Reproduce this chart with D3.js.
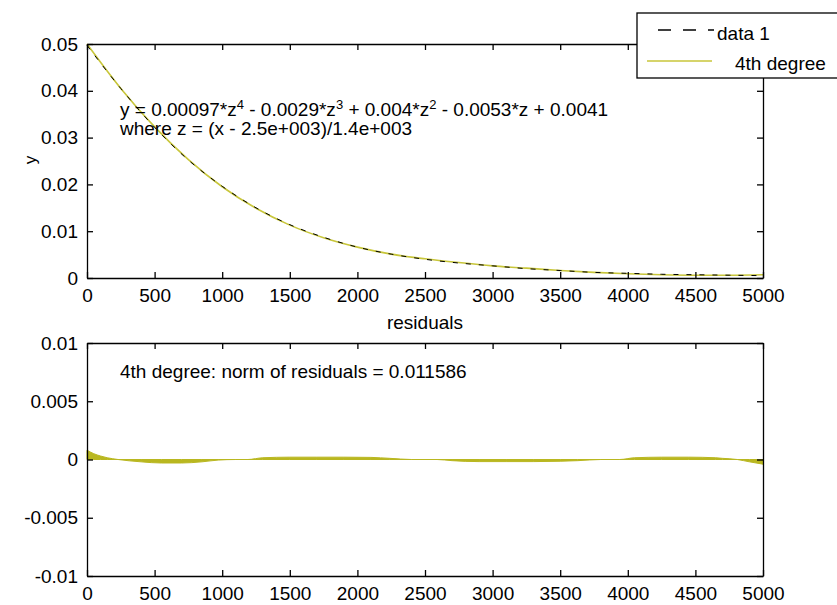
<!DOCTYPE html>
<html>
<head>
<meta charset="utf-8">
<script src="https://cdn.jsdelivr.net/npm/d3@7"></script>
<style>
  body { margin: 0; background: #fff; }
  svg text { font-family: "Liberation Sans", Arial, sans-serif; fill: #000; }
</style>
</head>
<body>
<svg id="chart" width="837" height="605"></svg>
<script>
// values
var dataX = [0, 250, 500, 750, 1000, 1250, 1500, 1750, 2000, 2250, 2500, 2750, 3000, 3250, 3500, 3750, 4000, 4250, 4500, 4750, 5000];
var dataY = [0.0497, 0.0405, 0.0322, 0.0252, 0.0196, 0.0150, 0.0114, 0.0087, 0.0066, 0.0051, 0.0040, 0.0032, 0.0026, 0.0020, 0.0016, 0.0012, 0.0010, 0.0008, 0.0007, 0.0006, 0.0005];
var fitY  = [0.0500, 0.0405, 0.0323, 0.0253, 0.0195, 0.0149, 0.0113, 0.0086, 0.0066, 0.0051, 0.0041, 0.0033, 0.0026, 0.0021, 0.0016, 0.0012, 0.0009, 0.0007, 0.0006, 0.0006, 0.0007];

var residX = [0, 50, 100, 150, 230, 400, 550, 700, 850, 970, 1100, 1190, 1300, 1500, 1700, 1900, 2100, 2240, 2400, 2590, 2700, 2900, 3100, 3300, 3500, 3630, 3800, 3940, 4050, 4250, 4450, 4650, 4700, 4810, 4900, 5000];
var residY = [0.0008, 0.0005, 0.0003, 0.00015, 0, -0.0002, -0.0003, -0.0003, -0.0002, -0.00005, 0, 0, 0.00015, 0.0002, 0.0002, 0.0002, 0.00018, 0.0001, 0, 0, -0.0001, -0.00018, -0.00018, -0.00018, -0.00015, -0.0001, 0, 0, 0.00015, 0.0002, 0.0002, 0.00015, 0.0001, 0, -0.0002, -0.0004];

var xTicks = [0, 500, 1000, 1500, 2000, 2500, 3000, 3500, 4000, 4500, 5000];
var topYTicks = [0, 0.01, 0.02, 0.03, 0.04, 0.05];
var botYTicks = [-0.01, -0.005, 0, 0.005, 0.01];
var legendLabels = ["data 1", "4th degree"];

var fitColor = "#c8c63a";
var residColor = "#b9b720";
var fontSize = "19px";

var svg = d3.select("#chart");

var x = d3.scaleLinear().domain([0, 5000]).range([87, 763]);
var yTop = d3.scaleLinear().domain([0, 0.05]).range([278, 44]);
var yBot = d3.scaleLinear().domain([-0.01, 0.01]).range([576, 343]);

function drawAxes(y, yTicks, yFmt) {
    var top = y.range()[1], bottom = y.range()[0];

    svg.append("g")
        .attr("transform", "translate(0," + bottom + ")")
        .call(d3.axisBottom(x).tickValues(xTicks).tickFormat(d3.format("d"))
            .tickSizeInner(-6).tickSizeOuter(0).tickPadding(11));
    svg.append("g")
        .attr("transform", "translate(0," + top + ")")
        .call(d3.axisTop(x).tickValues(xTicks).tickFormat("")
            .tickSizeInner(-6).tickSizeOuter(0));
    svg.append("g")
        .attr("transform", "translate(87,0)")
        .call(d3.axisLeft(y).tickValues(yTicks).tickFormat(yFmt)
            .tickSizeInner(-6).tickSizeOuter(0).tickPadding(9));
    svg.append("g")
        .attr("transform", "translate(763,0)")
        .call(d3.axisRight(y).tickValues(yTicks).tickFormat("")
            .tickSizeInner(-6).tickSizeOuter(0));
}

function fmtTop(d) { return d === 0 ? "0" : d3.format(".2f")(d); }
function fmtBot(d) {
    if (d === 0) return "0";
    var s = Math.abs(d) === 0.01 ? "0.01" : "0.005";
    return (d < 0 ? "-" : "") + s;
}

// ---- top plot ----
var topPts = dataX.map(function(d, i) { return {x: d, y: dataY[i], f: fitY[i]}; });

svg.append("path")
    .datum(topPts)
    .attr("fill", "none")
    .attr("stroke", fitColor)
    .attr("stroke-width", 1.6)
    .attr("d", d3.line().x(function(d) { return x(d.x); }).y(function(d) { return yTop(d.f); }).curve(d3.curveMonotoneX));

svg.append("path")
    .datum(topPts)
    .attr("fill", "none")
    .attr("stroke", "#000")
    .attr("stroke-width", 1)
    .attr("stroke-dasharray", "5,8")
    .attr("d", d3.line().x(function(d) { return x(d.x); }).y(function(d) { return yTop(d.y); }).curve(d3.curveMonotoneX));

drawAxes(yTop, topYTicks, fmtTop);

// ---- bottom plot ----
var residPts = residX.map(function(d, i) { return {x: d, y: residY[i]}; });

svg.append("path")
    .datum(residPts)
    .attr("fill", residColor)
    .attr("stroke", residColor)
    .attr("stroke-width", 1)
    .attr("d", d3.area().x(function(d) { return x(d.x); }).y0(yBot(0)).y1(function(d) { return yBot(d.y); }).curve(d3.curveMonotoneX));

drawAxes(yBot, botYTicks, fmtBot);

svg.selectAll(".tick text").style("font-size", fontSize).style("font-family", "'Liberation Sans', Arial, sans-serif");
svg.selectAll(".domain").attr("stroke", "#000").attr("stroke-width", 1.3);
svg.selectAll(".tick line").attr("stroke", "#000").attr("stroke-width", 1.3);

// labels
svg.append("text")
    .attr("transform", "translate(36,160) rotate(-90)")
    .attr("text-anchor", "middle")
    .style("font-size", "17px")
    .text("y");

svg.append("text")
    .attr("x", 425).attr("y", 329)
    .attr("text-anchor", "middle")
    .style("font-size", fontSize)
    .text("residuals");

// equation
var eq = svg.append("text").attr("x", 120).attr("y", 109).style("font-size", fontSize);
var parts = [["y = 0.00097*z", "4"], [" - 0.0029*z", "3"], [" + 0.004*z", "2"], [" - 0.0053*z + 0.0041", null]];
parts.forEach(function(p) {
    eq.append("tspan").attr("dy", eq.selectAll("tspan").size() ? 7 : 0).text(p[0]);
    if (p[1]) eq.append("tspan").attr("dy", -7).style("font-size", "13px").text(p[1]);
});
svg.append("text").attr("x", 120).attr("y", 135).style("font-size", fontSize)
    .text("where z = (x - 2.5e+003)/1.4e+003");

svg.append("text").attr("x", 120).attr("y", 378).style("font-size", fontSize)
    .text("4th degree: norm of residuals = 0.011586");

// legend
var leg = svg.append("g");
leg.append("rect")
    .attr("x", 637).attr("y", 13).attr("width", 230).attr("height", 65)
    .attr("fill", "#fff").attr("stroke", "#000").attr("stroke-width", 1.3);
leg.append("line")
    .attr("x1", 658).attr("x2", 714).attr("y1", 30).attr("y2", 30)
    .attr("stroke", "#000").attr("stroke-width", 1.3).attr("stroke-dasharray", "13,12");
leg.append("text").attr("x", 717).attr("y", 40).style("font-size", fontSize).text(legendLabels[0]);
leg.append("line")
    .attr("x1", 647).attr("x2", 712).attr("y1", 61).attr("y2", 61)
    .attr("stroke", fitColor).attr("stroke-width", 1.6);
leg.append("text").attr("x", 735).attr("y", 70).style("font-size", fontSize).text(legendLabels[1]);
</script>
</body>
</html>
